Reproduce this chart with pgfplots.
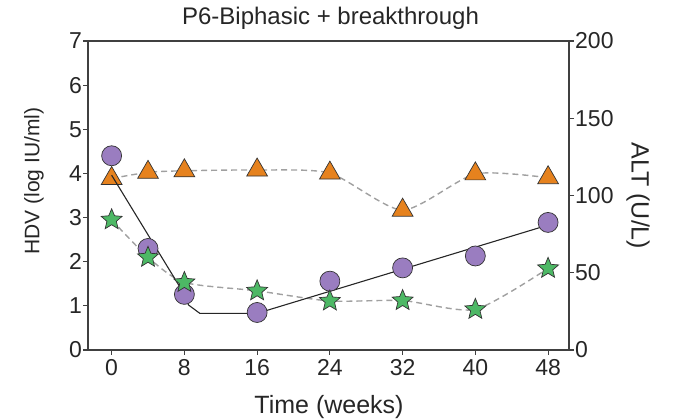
\documentclass[border=0pt]{standalone}
\usepackage{fontspec}
\setmainfont{Liberation Sans}
\usepackage{pgfplots}
\pgfplotsset{compat=1.18}
\definecolor{txt}{HTML}{262626}
\definecolor{ax}{HTML}{404040}
\definecolor{pur}{HTML}{9A7DC0}
\definecolor{org}{HTML}{E6821E}
\definecolor{grn}{HTML}{4DB865}
\definecolor{dsh}{HTML}{A0A0A0}
\pgfdeclareplotmark{fstar}{%
  \pgfpathmoveto{\pgfpointpolar{90}{\pgfplotmarksize}}%
  \pgfpathlineto{\pgfpointpolar{126}{0.45\pgfplotmarksize}}%
  \pgfpathlineto{\pgfpointpolar{162}{\pgfplotmarksize}}%
  \pgfpathlineto{\pgfpointpolar{198}{0.45\pgfplotmarksize}}%
  \pgfpathlineto{\pgfpointpolar{234}{\pgfplotmarksize}}%
  \pgfpathlineto{\pgfpointpolar{270}{0.45\pgfplotmarksize}}%
  \pgfpathlineto{\pgfpointpolar{306}{\pgfplotmarksize}}%
  \pgfpathlineto{\pgfpointpolar{342}{0.45\pgfplotmarksize}}%
  \pgfpathlineto{\pgfpointpolar{18}{\pgfplotmarksize}}%
  \pgfpathlineto{\pgfpointpolar{54}{0.45\pgfplotmarksize}}%
  \pgfpathclose
  \pgfusepathqfillstroke}
\pgfplotsset{
  common/.style={
    scale only axis, width=481pt, height=309pt,
    xmin=-2.6, xmax=50.3,
    tick align=outside, major tick length=5pt,
    axis line style={ax, line width=1.1pt},
    tick style={ax, line width=1.1pt},
    tick label style={font=\fontsize{23}{23}\selectfont, text=txt},
    /pgf/number format/assume math mode=true,
    clip=false,
  }
}
\begin{document}
\begin{tikzpicture}
\useasboundingbox (-88pt,-70pt) rectangle (592pt,350pt);
% right axis: ALT
\begin{axis}[common,
  axis x line=none, axis y line*=right,
  ymin=0, ymax=200, ytick={0,50,...,200},
  yticklabel style={inner sep=1pt},
]
\addplot[dsh, densely dashed, dash pattern=on 6pt off 4pt, line width=1.4pt, smooth, tension=0.4] coordinates {
(0,111) (4,115) (8,116) (16,116.5) (24,114.5) (32,90.5) (40,114) (48,111.5)};
\addplot[only marks, mark=triangle*, mark size=12pt, mark options={fill=org, draw=black!80, line width=0.7pt}] coordinates {
(0,111) (4,115) (8,116) (16,116.5) (24,114.5) (32,90.5) (40,114) (48,111.5)};
\end{axis}
% left axis: HDV
\begin{axis}[common,
  ymin=0, ymax=7, ytick={0,...,7}, xtick={0,8,...,48},
  xtick pos=bottom, ytick pos=left,
  yticklabel style={inner sep=1pt},
  xticklabel style={inner sep=4pt},
]
\addplot[dsh, dash pattern=on 6pt off 4pt, line width=1.4pt, smooth, tension=0.4] coordinates {
(0,2.95) (4,2.10) (8,1.53) (16,1.34) (24,1.11) (32,1.12) (40,0.92) (48,1.85)};
\addplot[black!85, line width=1.1pt] coordinates {
(0,3.96) (8,1.26) (8.45,1.02) (9.7,0.83) (16,0.83) (48,2.83)};
\addplot[only marks, mark=*, mark size=10pt, mark options={fill=pur, draw=black!80, line width=0.7pt}] coordinates {
(0,4.40) (4,2.30) (8,1.26) (16,0.85) (24,1.56) (32,1.86) (40,2.13) (48,2.89)};
\addplot[only marks, mark=fstar, mark size=11pt, mark options={fill=grn, draw=black!80, line width=0.7pt}] coordinates {
(0,2.95) (4,2.10) (8,1.53) (16,1.34) (24,1.11) (32,1.12) (40,0.92) (48,1.85)};
\end{axis}
\node[anchor=base, text=txt, font=\fontsize{24}{24}\selectfont] at (242.5pt,325pt) {P6-Biphasic + breakthrough};
\node[anchor=base, text=txt, font=\fontsize{25}{25}\selectfont] at (241pt,-64pt) {Time (weeks)};
\node[anchor=base, rotate=90, text=txt, font=\fontsize{21}{21}\selectfont] at (-48.7pt,169pt) {HDV (log IU/ml)};
\node[anchor=base, rotate=-90, text=txt, font=\fontsize{25}{25}\selectfont] at (543.7pt,154pt) {ALT (U/L)};
\end{tikzpicture}
\end{document}
